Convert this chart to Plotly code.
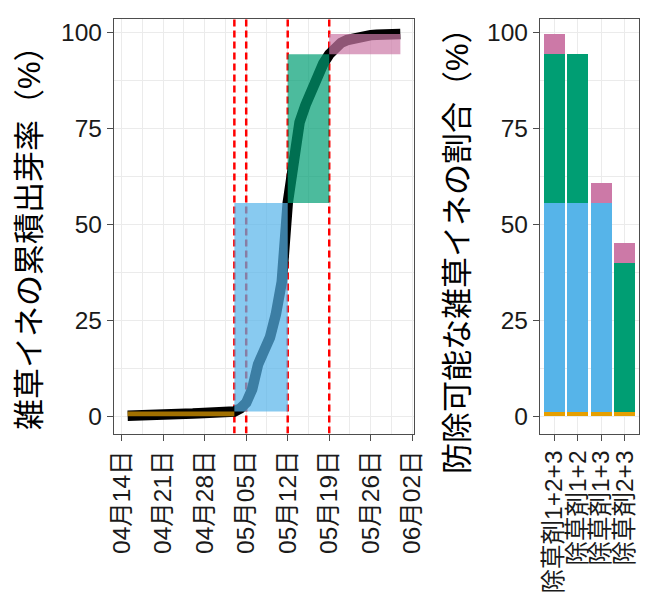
import pandas as pd
import plotly.graph_objects as go

# --- cumulative emergence of weedy rice (%) by date ---
obs_dates = pd.date_range("2021-04-15", "2021-05-31", freq="D")
emergence = [
    0.1, 0.1, 0.1, 0.1, 0.1, 0.1, 0.1, 0.1, 0.2, 0.3,
    0.5, 0.7, 0.8, 0.9, 0.9, 1.0, 1.0, 1.1, 1.2, 2.0,
    3.5, 7.0, 13.5, 17.0, 20.5, 26.5, 35.0, 55.5, 67.0, 76.5,
    81.0, 85.0, 88.5, 91.8, 94.2, 96.2, 97.2, 97.9, 98.4, 98.8,
    99.0, 99.2, 99.3, 99.4, 99.5, 99.5, 99.5,
]

# herbicide application dates
treatment_dates = ["2021-05-03", "2021-05-05", "2021-05-12", "2021-05-19"]

# control windows (coloured bands)
phase_start = ["2021-04-15", "2021-05-03", "2021-05-12", "2021-05-19"]
phase_end = ["2021-05-03", "2021-05-12", "2021-05-19", "2021-05-31"]
phase_low = [0.0, 1.2, 55.5, 94.2]
phase_high = [1.2, 55.5, 94.2, 99.5]
phase_colors = ["#E69F00", "#56B4E9", "#009E73", "#CC79A7"]
phase_fills = ["rgba(230,159,0,0.7)", "rgba(86,180,233,0.7)",
               "rgba(0,158,115,0.7)", "rgba(204,121,167,0.7)"]

# share of controllable weedy rice per herbicide combination
combos = ["除草剤1+2+3", "除草剤1+2", "除草剤1+3", "除草剤2+3"]
share_pre = [1.2, 1.2, 1.2, 1.2]
share_p1 = [54.3, 54.3, 54.3, 0.0]
share_p2 = [38.7, 38.7, 0.0, 38.7]
share_p3 = [5.3, 0.0, 5.3, 5.3]

y_ticks = [0, 25, 50, 75, 100]
y_range = [-4.5, 103.4]
x_range = ["2021-04-12 16:48", "2021-06-02 07:12"]

FONT = "Liberation Sans, Noto Sans CJK JP, sans-serif"
GRID = "#EBEBEB"
FRAME = "#4D4D4D"
W, H = 648, 603

fig = go.Figure()

# dashed application lines spanning the whole panel height
for d in treatment_dates:
    fig.add_trace(go.Scatter(
        x=[d, d], y=y_range, mode="lines",
        line=dict(color="#FF0000", width=2.5, dash="7px,4px"),
        xaxis="x", yaxis="y", showlegend=False, hoverinfo="skip",
    ))

# emergence curve
fig.add_trace(go.Scatter(
    x=obs_dates, y=emergence, mode="lines",
    line=dict(color="black", width=10.5),
    xaxis="x", yaxis="y", showlegend=False, hoverinfo="skip",
))

# translucent control windows over the curve
for xs, xe, lo, hi, fc in zip(phase_start, phase_end, phase_low, phase_high, phase_fills):
    fig.add_trace(go.Scatter(
        x=[xs, xe, xe, xs, xs], y=[lo, lo, hi, hi, lo],
        mode="lines", fill="toself", fillcolor=fc,
        line=dict(width=0), xaxis="x", yaxis="y",
        showlegend=False, hoverinfo="skip",
    ))

# stacked bars
for vals, col in zip([share_pre, share_p1, share_p2, share_p3], phase_colors):
    fig.add_trace(go.Bar(
        x=combos, y=vals, marker=dict(color=col, line=dict(width=0)),
        width=0.9, xaxis="x2", yaxis="y2", showlegend=False,
    ))

y_dom = [(H - 433.5) / H, (H - 19) / H]

common = dict(
    showline=True, mirror=True, linecolor=FRAME, linewidth=1.3,
    ticks="outside", ticklen=6, tickwidth=1.3, tickcolor=FRAME,
    gridcolor=GRID, gridwidth=1.4, zeroline=False, automargin=False,
    tickfont=dict(family=FONT, size=24.5, color="#1A1A1A"),
)

fig.update_layout(
    width=W, height=H,
    margin=dict(l=0, r=0, t=0, b=0),
    paper_bgcolor="white", plot_bgcolor="white",
    barmode="stack", bargap=0.1,
    font=dict(family=FONT, color="black"),
    xaxis=dict(
        common, domain=[114 / W, 414 / W], anchor="y", type="date",
        range=x_range, tick0="2021-04-14", dtick=7 * 86400000,
        tickformat="%m月%d日", tickangle=-90,
        minor=dict(tick0="2021-04-14", dtick=3.5 * 86400000, showgrid=True,
                   gridcolor=GRID, gridwidth=0.8, ticks=""),
    ),
    yaxis=dict(
        common, domain=y_dom, anchor="x", range=y_range,
        tickvals=y_ticks,
        minor=dict(tick0=0, dtick=12.5, showgrid=True,
                   gridcolor=GRID, gridwidth=0.8, ticks=""),
    ),
    xaxis2=dict(
        common, domain=[540 / W, 639 / W], anchor="y2", type="category",
        categoryorder="array", categoryarray=combos,
        tickmode="array", tickvals=combos, ticktext=combos,
        range=[-0.6, 3.6], tickangle=-90,
    ),
    yaxis2=dict(
        common, domain=y_dom, anchor="x2", range=y_range,
        tickvals=y_ticks,
        minor=dict(tick0=0, dtick=12.5, showgrid=True,
                   gridcolor=GRID, gridwidth=0.8, ticks=""),
    ),
)

# axis titles
fig.add_annotation(
    text="雑草イネの累積出芽率（%）", xref="paper", yref="paper",
    x=29 / W, y=1 - 230 / H, xanchor="center", yanchor="middle",
    textangle=-90, showarrow=False, font=dict(family=FONT, size=31, color="black"),
)
fig.add_annotation(
    text="防除可能な雑草イネの割合（%）", xref="paper", yref="paper",
    x=457 / W, y=1 - 243 / H, xanchor="center", yanchor="middle",
    textangle=-90, showarrow=False, font=dict(family=FONT, size=31, color="black"),
)

fig.write_html("out.html")
